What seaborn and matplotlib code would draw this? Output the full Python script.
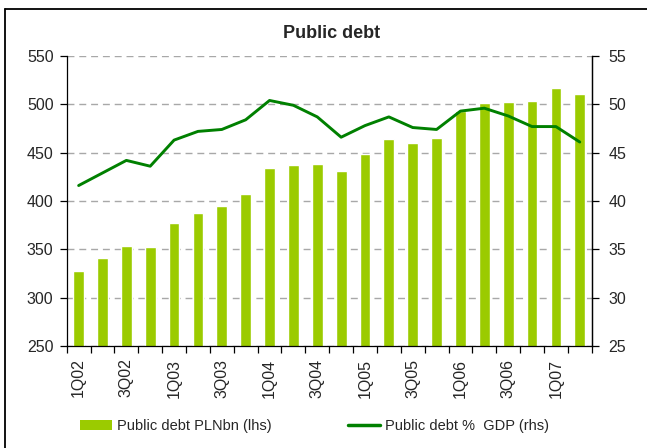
import numpy as np
import pandas as pd
import matplotlib
matplotlib.use("Agg")
import matplotlib.pyplot as plt
from matplotlib.lines import Line2D
from matplotlib.patches import Patch
import seaborn as sns

# Quarterly public debt data
quarters = ["1Q02", "2Q02", "3Q02", "4Q02", "1Q03", "2Q03", "3Q03", "4Q03",
            "1Q04", "2Q04", "3Q04", "4Q04", "1Q05", "2Q05", "3Q05", "4Q05",
            "1Q06", "2Q06", "3Q06", "4Q06", "1Q07", "2Q07"]
debt_pln_bn = [328, 341, 353.5, 352.5, 377, 387.5, 395, 407,
               434.5, 437, 438.5, 431, 448.5, 464, 460, 465,
               493, 501.5, 502.5, 503.5, 517, 511]
debt_pct_gdp = [41.6, 42.9, 44.2, 43.6, 46.3, 47.2, 47.4, 48.4,
                50.4, 49.9, 48.7, 46.6, 47.8, 48.7, 47.6, 47.4,
                49.3, 49.6, 48.8, 47.7, 47.7, 46.1]
left_ticks = [250, 300, 350, 400, 450, 500, 550]
right_ticks = [25, 30, 35, 40, 45, 50, 55]

bar_color = "#9BCB00"
line_color = "#008000"

sns.set_style("white")
plt.rcParams["font.family"] = ["Liberation Sans", "DejaVu Sans"]
plt.rcParams["font.size"] = 11.5

df = pd.DataFrame({"quarter": quarters, "debt": debt_pln_bn, "pct": debt_pct_gdp})
df["pos"] = np.arange(len(df))

fig = plt.figure(figsize=(6.47, 4.48), dpi=100)
ax = fig.add_axes([66.7 / 647, 1 - 346 / 448, (591.7 - 66.7) / 647, (346 - 56) / 448])

sns.barplot(data=df, x="quarter", y="debt", color=bar_color, width=0.45,
            saturation=1, ax=ax, zorder=2)
ax.set_ylim(250, 550)
ax.set_xlim(-0.5, len(quarters) - 0.5)
ax.set_yticks(left_ticks)
ax.set_xlabel("")
ax.set_ylabel("")
ax.set_axisbelow(True)
ax.yaxis.grid(True, color="#A8A8A8", linestyle=(0, (5, 3.5)), linewidth=1.0)
ax.xaxis.grid(False)

# Category boundaries carry tick marks; every other quarter gets a label
n = len(quarters)
ax.set_xticks(np.arange(n + 1) - 0.5)
ax.set_xticklabels([])
ax.set_xticks(np.arange(0, n, 2), minor=True)
ax.set_xticklabels([quarters[i] for i in range(0, n, 2)], minor=True, rotation=90)
ax.tick_params(axis="x", which="major", direction="out", length=5, width=0.9,
               color="black", bottom=True)
ax.tick_params(axis="x", which="minor", length=0, pad=9, labelsize=11.5)
ax.tick_params(axis="y", direction="out", length=5, width=0.9, color="black",
               left=True, pad=4.5, labelsize=11.5)

for side in ["left", "bottom", "right"]:
    ax.spines[side].set_color("black")
    ax.spines[side].set_linewidth(0.9)
ax.spines["top"].set_visible(False)

ax2 = ax.twinx()
sns.lineplot(data=df, x="pos", y="pct", color=line_color, linewidth=2.1, ax=ax2, zorder=3)
ax2.set_ylim(25, 55)
ax2.set_yticks(right_ticks)
ax2.set_ylabel("")
ax2.set_xlabel("")
ax2.set_xlim(-0.5, n - 0.5)
ax2.grid(False)
ax2.tick_params(axis="y", direction="out", length=5, width=0.9, color="black",
                right=True, pad=7, labelsize=11.5)
for side in ["top", "left", "bottom"]:
    ax2.spines[side].set_visible(False)
ax2.spines["right"].set_color("black")
ax2.spines["right"].set_linewidth(0.9)

fig.text(332 / 647, 1 - 33 / 448, "Public debt", ha="center", va="center",
         fontsize=13, fontweight="bold")

handles = [Patch(facecolor=bar_color, edgecolor="none"),
           Line2D([0], [0], color=line_color, linewidth=2.5)]
labels = ["Public debt PLNbn (lhs)", "Public debt %  GDP (rhs)"]
fig.legend(handles, labels, loc="center left", bbox_to_anchor=(80 / 647, 1 - 426 / 448),
           ncol=2, frameon=False, borderpad=0, borderaxespad=0, handlelength=2.2,
           handleheight=0.75, handletextpad=0.35, columnspacing=5.2, fontsize=10.5)

# Outer frame (top and left edges)
fig.add_artist(Line2D([5 / 647, 1.0], [1 - 9.5 / 448, 1 - 9.5 / 448],
                      color="black", linewidth=1.3, transform=fig.transFigure))
fig.add_artist(Line2D([5 / 647, 5 / 647], [0.0, 1 - 9.5 / 448],
                      color="black", linewidth=1.3, transform=fig.transFigure))

fig.savefig("out.png", dpi=100)
